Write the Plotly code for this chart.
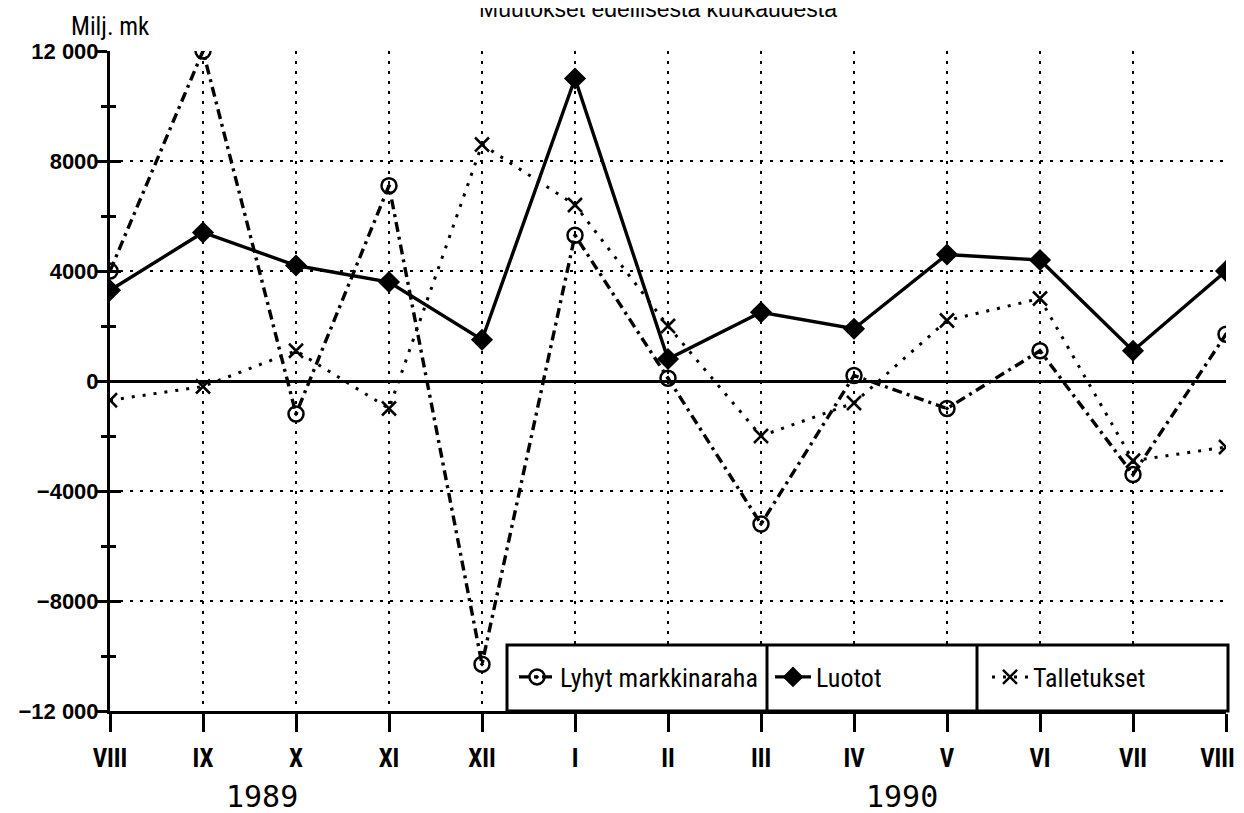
import plotly.graph_objects as go

# ---- data ----
months = ["VIII", "IX", "X", "XI", "XII", "I", "II", "III", "IV", "V", "VI", "VII", "VIII"]
lyhyt = [4000, 12000, -1200, 7100, -10300, 5300, 100, -5200, 200, -1000, 1100, -3400, 1700]
luotot = [3300, 5400, 4200, 3600, 1500, 11000, 800, 2500, 1900, 4600, 4400, 1100, 4000]
talletukset = [-700, -200, 1100, -1000, 8600, 6400, 2000, -2000, -800, 2200, 3000, -2900, -2400]
series_names = ["Lyhyt markkinaraha", "Luotot", "Talletukset"]
years = ["1989", "1990"]
year_pos = [1.63, 8.52]
y_tickvals = [-12000, -8000, -4000, 0, 4000, 8000, 12000]
y_ticktext = ["\u221212 000", "\u22128000", "\u22124000", "0", "4000", "8000", "12 000"]
y_minor = [-10000, -6000, -2000, 2000, 6000, 10000]
title_text = "Muutokset edellisestä kuukaudesta"
unit_text = "Milj. mk"

x = list(range(len(months)))
# last label padded with (non-collapsing) spaces so it stays inside the page edge
x_ticktext = months[:-1] + [months[-1] + "\u2002\u00a0"]

COND = "Roboto Condensed, DejaVu Sans Condensed, sans-serif"
SANS = "Liberation Sans, Arial, sans-serif"

OFF = 8  # page body margin
W, H = 1236, 805
L, R, T, B = 102, 18, 43, 102
PW = W - L - R
PH = H - T - B


def px_x(p):
    return (p - OFF - L) / PW


def px_y(p):
    return (H - B - (p - OFF)) / PH


fig = go.Figure()

fig.add_trace(go.Scatter(
    x=x, y=talletukset, name=series_names[2], mode="lines+markers",
    line=dict(color="black", width=3, dash="3px,8px"),
    marker=dict(symbol="x-thin-open", size=14, line=dict(color="black", width=2.5), color="black"),
    legend="legend3",
))
fig.add_trace(go.Scatter(
    x=x, y=lyhyt, name=series_names[0], mode="lines+markers",
    line=dict(color="black", width=3.4, dash="10px,5px,3px,5px"),
    marker=dict(symbol="circle-open-dot", size=15, line=dict(color="black", width=2.5), color="black"),
    legend="legend",
))
fig.add_trace(go.Scatter(
    x=x, y=luotot, name=series_names[1], mode="lines+markers",
    line=dict(color="black", width=3.4),
    marker=dict(symbol="diamond", size=17, color="black"),
    legend="legend2",
))
# helper (empty) trace so the inward-tick overlay axis is drawn
fig.add_trace(go.Scatter(x=[], y=[], yaxis="y2", showlegend=False, hoverinfo="skip"))

grid_dash = "3px,7px"
leg_font = dict(family=COND, size=26)

fig.update_layout(
    width=W, height=H,
    margin=dict(l=L, r=R, t=T, b=B, pad=0, autoexpand=False),
    paper_bgcolor="white", plot_bgcolor="white",
    font=dict(family=SANS, color="black"),
    xaxis=dict(
        range=[0, 12], tickmode="array", tickvals=x, ticktext=x_ticktext,
        ticks="outside", ticklen=18, tickwidth=2.5, tickcolor="black",
        showline=True, linewidth=3, linecolor="black",
        showgrid=True, gridcolor="black", gridwidth=2, griddash=grid_dash,
        zeroline=False, automargin=False, ticklabeloverflow="allow",
        tickfont=dict(family=COND, size=25, weight="bold"),
        ticklabelstandoff=5,
    ),
    yaxis=dict(
        range=[-12000, 12000], tickmode="array", tickvals=y_tickvals, ticktext=y_ticktext,
        ticks="outside", ticklen=11, tickwidth=2.5, tickcolor="black",
        showline=True, linewidth=3, linecolor="black",
        showgrid=True, gridcolor="black", gridwidth=2, griddash=grid_dash,
        zeroline=True, zerolinecolor="black", zerolinewidth=3, automargin=False,
        minor=dict(tickmode="array", tickvals=y_minor, ticks="outside", ticklen=6,
                   tickwidth=2.5, tickcolor="black", showgrid=False),
        tickfont=dict(family=SANS, size=22, weight="bold"),
        ticklabelstandoff=-7,
    ),
    yaxis2=dict(
        range=[-12000, 12000], overlaying="y", side="left", anchor="x",
        tickmode="array", tickvals=y_tickvals, ticks="inside", ticklen=11,
        tickwidth=2.5, tickcolor="black", showticklabels=False, automargin=False,
        showgrid=False, zeroline=False, showline=False,
        minor=dict(tickmode="array", tickvals=y_minor, ticks="inside", ticklen=6,
                   tickwidth=2.5, tickcolor="black", showgrid=False),
    ),
    showlegend=True,
    legend=dict(x=px_x(514), y=px_y(677), xanchor="left", yanchor="middle",
                bgcolor="rgba(0,0,0,0)", borderwidth=0, itemwidth=36, font=leg_font),
    legend2=dict(x=px_x(770), y=px_y(677), xanchor="left", yanchor="middle",
                 bgcolor="rgba(0,0,0,0)", borderwidth=0, itemwidth=36, font=leg_font),
    legend3=dict(x=px_x(987), y=px_y(677), xanchor="left", yanchor="middle",
                 bgcolor="rgba(0,0,0,0)", borderwidth=0, itemwidth=36, font=leg_font),
)

# legend frame with dividers
fig.add_shape(type="rect", xref="paper", yref="paper",
              x0=px_x(507), x1=px_x(1228), y0=0, y1=px_y(645),
              fillcolor="white", line=dict(color="black", width=3), layer="above")
for xd in (767, 977):
    fig.add_shape(type="line", xref="paper", yref="paper",
                  x0=px_x(xd), x1=px_x(xd), y0=0, y1=px_y(645),
                  line=dict(color="black", width=3), layer="above")

# title, unit label, years
fig.add_annotation(text=title_text, xref="paper", yref="paper", x=px_x(658), y=px_y(24),
                   xanchor="center", yanchor="bottom", showarrow=False,
                   font=dict(family=SANS, size=23))
fig.add_annotation(text=unit_text, xref="paper", yref="paper", x=px_x(110), y=px_y(27),
                   xanchor="center", yanchor="middle", showarrow=False,
                   font=dict(family=COND, size=25))
for yr, xp in zip(years, year_pos):
    fig.add_annotation(text=yr, xref="x", yref="paper", x=xp, y=px_y(796),
                       xanchor="center", yanchor="middle", showarrow=False,
                       font=dict(family="DejaVu Sans Mono, monospace", size=30))

fig.write_html("out.html")
